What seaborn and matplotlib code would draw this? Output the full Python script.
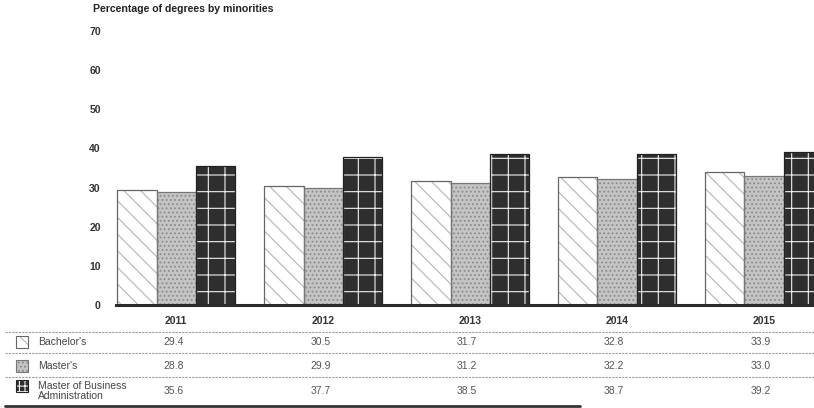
import numpy as np
import pandas as pd
import seaborn as sns
import matplotlib.pyplot as plt
from matplotlib.patches import Rectangle
from matplotlib.lines import Line2D
from matplotlib.transforms import blended_transform_factory

# data
years = ["2011", "2012", "2013", "2014", "2015"]
degrees = ["Bachelor's", "Master's", "Master of Business\nAdministration"]
bachelors = [29.4, 30.5, 31.7, 32.8, 33.9]
masters = [28.8, 29.9, 31.2, 32.2, 33.0]
mba = [35.6, 37.7, 38.5, 38.7, 39.2]
y_ticks = [0, 10, 20, 30, 40, 50, 60, 70]

df = pd.DataFrame({
    "year": years * 3,
    "degree": np.repeat(degrees, len(years)),
    "pct": bachelors + masters + mba,
})

sns.set_style("white")
plt.rcParams["font.family"] = ["Liberation Sans", "DejaVu Sans"]
plt.rcParams["hatch.linewidth"] = 0.8

W, H = 814, 408
fig = plt.figure(figsize=(W / 100, H / 100), dpi=100)
ax = fig.add_axes([116 / W, 1 - 305 / H, 1 - 116 / W, 274 / H])

faces = ["white", "#c4c4c4", "#2e2e2e"]
hatch_cols = ["#b4b4b4", "#8a8a8a", "#f0f0f0"]
hatches = ["\\\\", "....", "+"]
swatch_hatches = ["\\\\", "....", "+++"]  # denser so the small key shows a grid
outlines = ["#666666", "#777777", "#222222"]

sns.barplot(data=df, x="year", y="pct", hue="degree", order=years,
            hue_order=degrees, palette=faces, saturation=1, width=0.8,
            legend=False, ax=ax)

bars = list(ax.patches)
for i, p in enumerate(bars):
    k = i // len(years)
    p.set_hatch(hatches[k])
    p.set_edgecolor(hatch_cols[k])
    p.set_linewidth(0)
    ax.add_patch(Rectangle(p.get_xy(), p.get_width(), p.get_height(),
                           fill=False, edgecolor=outlines[k], lw=0.9))

ax.set_xlim(-0.41, 4.34)
ax.set_ylim(0, 70)
ax.set_yticks(y_ticks)
ax.set_yticklabels([str(t) for t in y_ticks], fontweight="bold", fontsize=7.5, color="#333333")
ax.set_xticks(range(len(years)))
ax.set_xticklabels(years, fontweight="bold", fontsize=7.5, color="#333333")
ax.tick_params(axis="y", length=0, pad=11)
ax.tick_params(axis="x", length=0, pad=8)
ax.set_xlabel("")
ax.set_ylabel("")
for s in ["top", "right", "left"]:
    ax.spines[s].set_visible(False)
ax.spines["bottom"].set_linewidth(2.2)
ax.spines["bottom"].set_color("#2a2a2a")

fig.text(93 / W, 1 - 9 / H, "Percentage of degrees by minorities",
         ha="left", va="center", fontweight="bold", fontsize=7.6, color="#222222")

# table under the chart
trans = blended_transform_factory(ax.transData, fig.transFigure)
row_y = [342, 366, 391]
rows = [bachelors, masters, mba]
for k, (label, vals, y) in enumerate(zip(degrees, rows, row_y)):
    fy = 1 - y / H
    for j, v in enumerate(vals):
        ax.text(j - 0.02, fy, f"{v:.1f}", transform=trans, ha="center", va="center",
                fontsize=7.5, color="#555555", clip_on=False)
    fig.text(38 / W, fy, label, ha="left", va="center", fontsize=7.5,
             color="#444444", linespacing=1.05)
    sy = y - 5 if k == 2 else y
    sw = Rectangle((16 / W, 1 - (sy + 6) / H), 12 / W, 12 / H,
                   transform=fig.transFigure, facecolor=faces[k],
                   edgecolor=hatch_cols[k], hatch=swatch_hatches[k], lw=0)
    fig.add_artist(sw)
    fig.add_artist(Rectangle((16 / W, 1 - (sy + 6) / H), 12 / W, 12 / H,
                             transform=fig.transFigure, fill=False,
                             edgecolor=outlines[k], lw=0.8))

for y in [332, 353, 377]:
    fig.add_artist(Line2D([5 / W, 1], [1 - y / H] * 2, transform=fig.transFigure,
                          color="#9a9a9a", lw=0.8, ls=(0, (2, 1))))
fig.add_artist(Line2D([5 / W, 580 / W], [1 - 406 / H] * 2, transform=fig.transFigure,
                      color="#333333", lw=2))

fig.savefig("out.png", dpi=100)
